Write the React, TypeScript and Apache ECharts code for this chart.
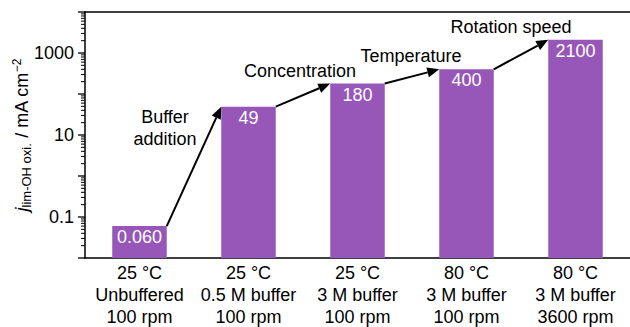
import React, { useEffect, useRef } from 'react';
import * as echarts from 'echarts';

// Conditions for each measurement (one bar each)
const categories = [
  '25 °C\nUnbuffered\n100 rpm',
  '25 °C\n0.5 M buffer\n100 rpm',
  '25 °C\n3 M buffer\n100 rpm',
  '80 °C\n3 M buffer\n100 rpm',
  '80 °C\n3 M buffer\n3600 rpm',
];

// Limiting OH- oxidation current density, mA cm^-2
const limitingCurrent = [0.06, 49, 180, 400, 2100];

// What changes between neighbouring bars
const stepLabels = ['Buffer\naddition', 'Concentration', 'Temperature', 'Rotation speed'];

// Log axis: decades (major ticks), the ones that carry a label, and minor multipliers
const decades = [0.01, 0.1, 1, 10, 100, 1000, 10000];
const labelledDecades = [0.1, 10, 1000];
const minorMultipliers = [2, 3, 4, 5, 6, 7, 8, 9];

// Pixel offsets of each step caption from the middle of its arrow
const STEP_CAPTION_OFFSET = [
  [-29, -38],
  [-3, -24],
  [-1, -20],
  [-10, -28],
];

const FONT = '"Liberation Sans", Arial, Helvetica, sans-serif';
const BAR_COLOR = '#9657b9';
const AXIS_MIN = 0.01;
const AXIS_MAX = 10000;

const formatValue = (v: number) => (v < 1 ? v.toFixed(3) : String(v));

export default function App() {
  const ref = useRef<HTMLDivElement>(null);

  useEffect(() => {
    if (!ref.current) return;
    const chart = echarts.init(ref.current, undefined, { renderer: 'svg' });

    const steps = stepLabels.map((_, i) => [i, limitingCurrent[i], i + 1, limitingCurrent[i + 1]]);

    // tick marks along the log axis: [value, isMajor]
    const tickMarks: number[][] = [];
    decades.forEach((d) => {
      tickMarks.push([d, 1]);
      if (d < AXIS_MAX) minorMultipliers.forEach((m) => tickMarks.push([d * m, 0]));
    });

    chart.setOption({
      animation: false,
      textStyle: { fontFamily: FONT },
      grid: {
        left: 85,
        right: 0,
        top: 12,
        bottom: 69,
        containLabel: false,
        outerBoundsMode: 'none',
      },
      xAxis: [
        {
          type: 'category',
          data: categories,
          axisLine: { show: true, lineStyle: { color: '#000', width: 1.5 } },
          axisTick: { show: false },
          axisLabel: {
            color: '#000',
            fontSize: 18,
            lineHeight: 22,
            margin: 4,
            fontFamily: FONT,
            interval: 0,
          },
          splitLine: { show: false },
        },
        {
          type: 'category',
          position: 'top',
          data: categories,
          axisLine: { show: true, lineStyle: { color: '#000', width: 1.5 } },
          axisTick: { show: false },
          axisLabel: { show: false },
        },
      ],
      yAxis: {
        type: 'log',
        logBase: 10,
        min: AXIS_MIN,
        max: AXIS_MAX,
        splitNumber: 6,
        axisLine: { show: true, lineStyle: { color: '#000', width: 1.5 } },
        axisTick: { show: false },
        minorTick: { show: false },
        splitLine: { show: false },
        axisLabel: {
          color: '#000',
          fontSize: 18,
          margin: 11,
          fontFamily: FONT,
          formatter: (v: number) => {
            const hit = labelledDecades.find((d) => Math.abs(Math.log10(v) - Math.log10(d)) < 1e-6);
            return hit !== undefined ? String(hit) : '';
          },
        },
        name: '{j|j}{sub|lim-OH oxi.}{u| / mA cm}{sup|−2}',
        nameLocation: 'middle',
        nameGap: 52,
        nameMoveOverlap: false,
        nameTextStyle: {
          color: '#000',
          fontFamily: FONT,
          rich: {
            j: { fontSize: 18, fontStyle: 'italic', lineHeight: 22, verticalAlign: 'middle', fontFamily: FONT },
            sub: { fontSize: 13, lineHeight: 12, verticalAlign: 'bottom', fontFamily: FONT },
            u: { fontSize: 18, lineHeight: 22, verticalAlign: 'middle', fontFamily: FONT },
            sup: { fontSize: 12, lineHeight: 12, verticalAlign: 'top', fontFamily: FONT },
          },
        },
      },
      series: [
        {
          // bars grow from the bottom of the log axis up to each value
          type: 'custom',
          name: 'limiting current',
          encode: { x: 0, y: 1 },
          data: limitingCurrent.map((v, i) => [i, v]),
          renderItem: (params: any, api: any) => {
            const cs = params.coordSys;
            const band = cs.width / categories.length;
            const top = api.coord([api.value(0), api.value(1)]);
            const bottom = cs.y + cs.height;
            const w = band * 0.5;
            return {
              type: 'group',
              children: [
                {
                  type: 'rect',
                  shape: { x: top[0] - w / 2, y: top[1], width: w, height: bottom - top[1] },
                  style: { fill: BAR_COLOR },
                },
                {
                  type: 'text',
                  x: top[0],
                  y: top[1] + 2,
                  style: {
                    text: formatValue(api.value(1)),
                    fill: '#fff',
                    fontSize: 18,
                    fontFamily: FONT,
                    align: 'center',
                    verticalAlign: 'top',
                  },
                },
              ],
            };
          },
        },
        {
          // arrows between neighbouring bars, with the step captions
          type: 'custom',
          clip: false,
          encode: { x: [0, 2], y: [1, 3] },
          data: steps,
          renderItem: (params: any, api: any) => {
            const idx = params.dataIndex;
            const a = api.coord([api.value(0), api.value(1)]);
            const b = api.coord([api.value(2), api.value(3)]);
            const half = (b[0] - a[0]) * 0.25;
            const x1 = a[0] + half;
            const y1 = a[1];
            const x2 = b[0] - half;
            const y2 = b[1];
            const ang = Math.atan2(y2 - y1, x2 - x1);
            const cos = Math.cos(ang);
            const sin = Math.sin(ang);
            const head = 12;
            const hw = 5;
            const bx = x2 - head * cos;
            const by = y2 - head * sin;
            const mx = (x1 + x2) / 2 + STEP_CAPTION_OFFSET[idx][0];
            const my = (y1 + y2) / 2 + STEP_CAPTION_OFFSET[idx][1];
            return {
              type: 'group',
              children: [
                {
                  type: 'line',
                  shape: { x1, y1, x2: bx, y2: by },
                  style: { stroke: '#000', lineWidth: 2 },
                },
                {
                  type: 'polygon',
                  shape: {
                    points: [
                      [x2, y2],
                      [bx - hw * sin, by + hw * cos],
                      [bx + hw * sin, by - hw * cos],
                    ],
                  },
                  style: { fill: '#000' },
                },
                {
                  type: 'text',
                  x: mx,
                  y: my,
                  style: {
                    text: stepLabels[idx],
                    fill: '#000',
                    fontSize: 18,
                    lineHeight: 22,
                    fontFamily: FONT,
                    align: 'center',
                    verticalAlign: 'middle',
                  },
                },
              ],
            };
          },
        },
        {
          // major and minor tick marks on the log axis
          type: 'custom',
          clip: false,
          silent: true,
          encode: { y: 0 },
          data: tickMarks,
          renderItem: (params: any, api: any) => {
            const cs = params.coordSys;
            const y = api.coord([0, api.value(0)])[1];
            const len = api.value(1) ? 7 : 4;
            return {
              type: 'line',
              shape: { x1: cs.x - len, y1: y, x2: cs.x, y2: y },
              style: { stroke: '#000', lineWidth: api.value(1) ? 1.3 : 1 },
            };
          },
        },
      ],
    });

    return () => chart.dispose();
  }, []);

  return (
    <div
      ref={ref}
      style={{ position: 'absolute', left: 0, top: 0, width: 630, height: 327, background: '#fff' }}
    />
  );
}
